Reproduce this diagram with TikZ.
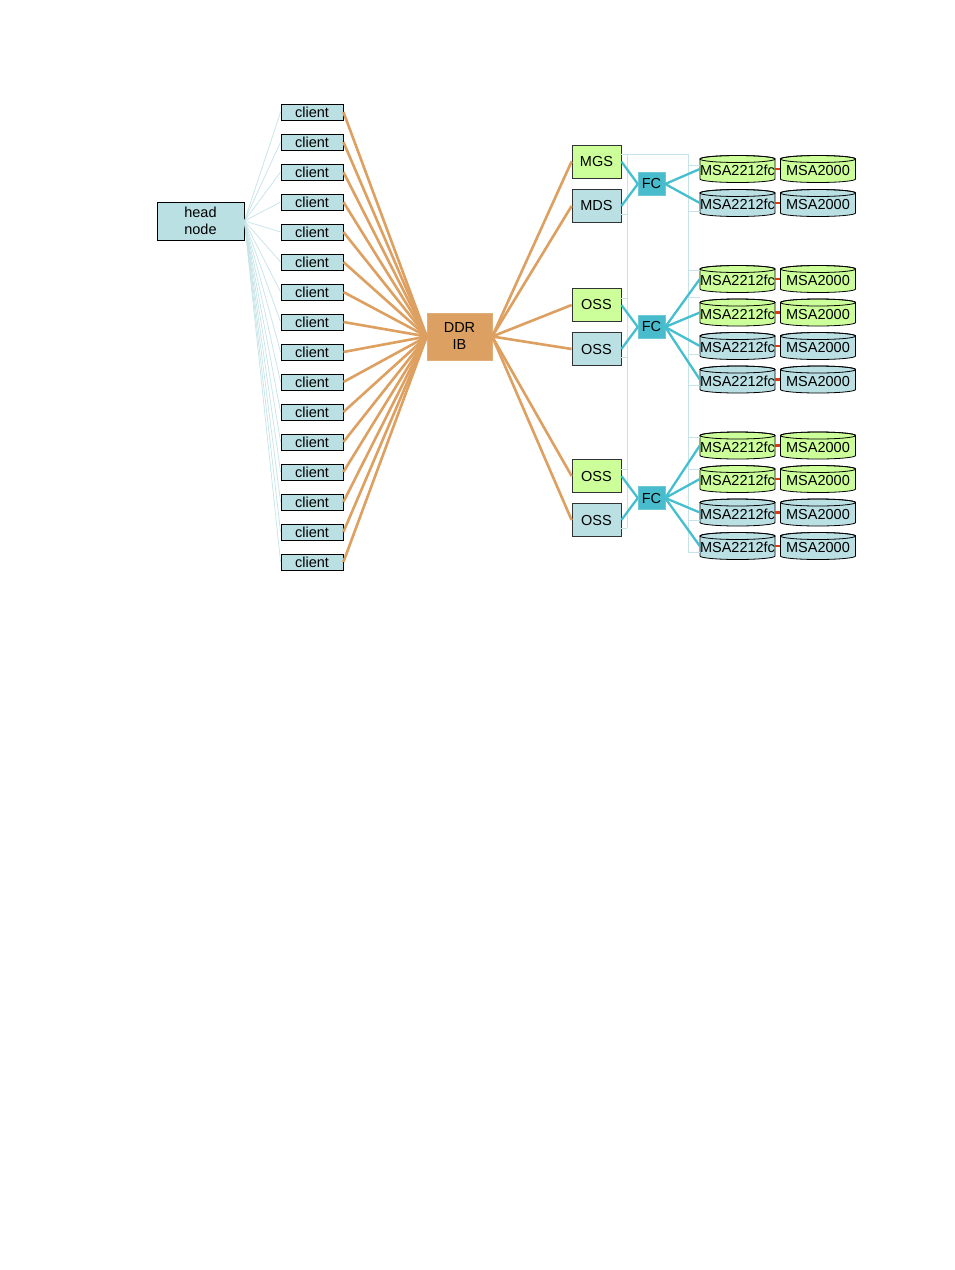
\documentclass[tikz,border=0pt]{standalone}
\usepackage{fontspec}
\setmainfont{Liberation Sans}
\usetikzlibrary{calc}
\definecolor{boxblue}{HTML}{BAE0E4}
\definecolor{boxgreen}{HTML}{CCFF99}
\definecolor{ibor}{HTML}{DDA060}
\definecolor{ddrfill}{HTML}{DCA062}
\definecolor{fcteal}{HTML}{48BCCC}
\definecolor{fcline}{HTML}{45BFD0}
\definecolor{mgmtc}{HTML}{C6E4E8}
\definecolor{redlink}{HTML}{E03A10}
\newcommand\msacyl[5]{%
  \filldraw[draw=black, line width=0.8pt, fill=#4] (#2-37.5,-#3+10) -- (#2-37.5,-#3-10)
    arc[start angle=180,end angle=360,x radius=37.5pt,y radius=3.5pt] -- (#2+37.5,-#3+10)
    arc[start angle=0,end angle=180,x radius=37.5pt,y radius=3.5pt] -- cycle;
  \draw[line width=0.8pt] (#2,-#3+10) ellipse[x radius=37.5pt, y radius=3.5pt];
  \node[cyltext] (#1) at (#2,-#3) {#5};
}
\tikzset{
  txt/.style={font=\fontsize{14.5}{17}\selectfont, inner sep=0pt, align=center},
  client/.style={txt, draw=black, line width=0.8pt, fill=boxblue, minimum width=62pt, minimum height=16pt},
  headbox/.style={txt, draw=black, line width=0.8pt, fill=boxblue, minimum width=87pt, minimum height=38pt},
  ddrbox/.style={txt, fill=ddrfill, draw=ddrfill!85!white, minimum width=65pt, minimum height=47pt},
  srv/.style={txt, draw=black!80, line width=0.8pt, minimum width=49pt, minimum height=33pt},
  fcbox/.style={txt, fill=fcteal, draw=fcteal!80!white, minimum width=27pt, minimum height=23pt},
  cyltext/.style={txt, minimum width=75pt, minimum height=27pt, text depth=0pt, yshift=-1.5pt},
  ib/.style={draw=ibor, line width=2.6pt},
  fc/.style={draw=fcline, line width=2.3pt},
  mgmt/.style={draw=mgmtc, line width=0.9pt},
  redl/.style={draw=redlink, line width=2.5pt},
}
\begin{document}
\begin{tikzpicture}[x=1pt,y=1pt]
\useasboundingbox (0,0) rectangle (954,-1270);
\fill[white] (0,0) rectangle (954,-1270);

% head node and clients
\node[headbox] (head) at (200.5,-221) {head\\node};
\foreach \i in {1,...,16} {
  \node[client] (cl\i) at (312,{-112-30*(\i-1)}) {client};
}
\node[ddrbox] (ddr) at (459.5,-336.5) {DDR\\IB};

% servers
\node[srv, fill=boxgreen] (mgs) at (596.5,-161.5) {MGS};
\node[srv, fill=boxblue] (mds) at (596.5,-206) {MDS};
\node[srv, fill=boxgreen] (oss1) at (596.5,-305) {OSS};
\node[srv, fill=boxblue] (oss2) at (596.5,-349) {OSS};
\node[srv, fill=boxgreen] (oss3) at (596.5,-476) {OSS};
\node[srv, fill=boxblue] (oss4) at (596.5,-520) {OSS};

% FC switches
\node[fcbox] (fc1) at (651.5,-184) {FC};
\node[fcbox] (fc2) at (651.5,-327) {FC};
\node[fcbox] (fc3) at (651.5,-498) {FC};

% management network (light lines)
\foreach \i in {1,...,16} { \draw[mgmt, line width=0.7pt] (head.east) -- (cl\i.west); }
\draw[mgmt] ([yshift=7.5pt]mgs.east) -- (688,-154) -- (688,-552);
\draw[mgmt] (627,-154) -- (627,-528);
\draw[mgmt] ([yshift=-8pt]mds.east) -- (627,-214);
\draw[mgmt] ([yshift=7pt]oss1.east) -- (627,-298);
\draw[mgmt] ([yshift=-8pt]oss2.east) -- (627,-357);
\draw[mgmt] ([yshift=7pt]oss3.east) -- (627,-469);
\draw[mgmt] ([yshift=-8pt]oss4.east) -- (627,-528);

% storage cylinders
\msacyl{c11}{737.5}{169}{boxgreen}{MSA2212fc}
\msacyl{d11}{818}{169}{boxgreen}{MSA2000}
\msacyl{c12}{737.5}{203}{boxblue}{MSA2212fc}
\msacyl{d12}{818}{203}{boxblue}{MSA2000}
\msacyl{c21}{737.5}{279}{boxgreen}{MSA2212fc}
\msacyl{d21}{818}{279}{boxgreen}{MSA2000}
\msacyl{c22}{737.5}{312.5}{boxgreen}{MSA2212fc}
\msacyl{d22}{818}{312.5}{boxgreen}{MSA2000}
\msacyl{c23}{737.5}{346}{boxblue}{MSA2212fc}
\msacyl{d23}{818}{346}{boxblue}{MSA2000}
\msacyl{c24}{737.5}{379.5}{boxblue}{MSA2212fc}
\msacyl{d24}{818}{379.5}{boxblue}{MSA2000}
\msacyl{c31}{737.5}{445.5}{boxgreen}{MSA2212fc}
\msacyl{d31}{818}{445.5}{boxgreen}{MSA2000}
\msacyl{c32}{737.5}{479}{boxgreen}{MSA2212fc}
\msacyl{d32}{818}{479}{boxgreen}{MSA2000}
\msacyl{c33}{737.5}{512.5}{boxblue}{MSA2212fc}
\msacyl{d33}{818}{512.5}{boxblue}{MSA2000}
\msacyl{c34}{737.5}{546}{boxblue}{MSA2212fc}
\msacyl{d34}{818}{546}{boxblue}{MSA2000}

% management stubs to storage
\draw[mgmt] ([yshift=5.5pt]c11.west) -- (688,-165);
\draw[mgmt] ([yshift=-6.5pt]c12.west) -- (688,-211);
\draw[mgmt] ([yshift=10.5pt]c21.west) -- (688,-270);
\draw[mgmt] ([yshift=16.5pt]c22.west) -- (688,-297.5);
\draw[mgmt] ([yshift=-6.5pt]c23.west) -- (688,-354);
\draw[mgmt] ([yshift=-4pt]c24.west) -- (688,-385);
\draw[mgmt] ([yshift=10pt]c31.west) -- (688,-437);
\draw[mgmt] ([yshift=11.5pt]c32.west) -- (688,-469);
\draw[mgmt] ([yshift=-6pt]c33.west) -- (688,-520);
\draw[mgmt] ([yshift=-4.5pt]c34.west) -- (688,-552);

% InfiniBand links
\foreach \i in {1,...,16} { \draw[ib] (cl\i.east) -- (ddr.west); }
\foreach \s in {mgs,mds,oss1,oss2,oss3,oss4} { \draw[ib] (ddr.east) -- (\s.west); }

% FC links
\draw[fc] (mgs.east) -- (fc1.west);
\draw[fc] (mds.east) -- (fc1.west);
\draw[fc] (oss1.east) -- (fc2.west);
\draw[fc] (oss2.east) -- (fc2.west);
\draw[fc] (oss3.east) -- (fc3.west);
\draw[fc] (oss4.east) -- (fc3.west);
\foreach \c in {c11,c12} { \draw[fc] (fc1.east) -- ([yshift=1.5pt]\c.west); }
\foreach \c in {c21,c22,c23,c24} { \draw[fc] (fc2.east) -- ([yshift=1.5pt]\c.west); }
\foreach \c in {c31,c32,c33,c34} { \draw[fc] (fc3.east) -- ([yshift=1.5pt]\c.west); }

% red links between arrays
\foreach \g in {11,12,21,22,23,24,31,32,33,34} { \draw[redl] ([yshift=1.5pt]c\g.east) -- ([yshift=1.5pt]d\g.west); }
\end{tikzpicture}
\end{document}
